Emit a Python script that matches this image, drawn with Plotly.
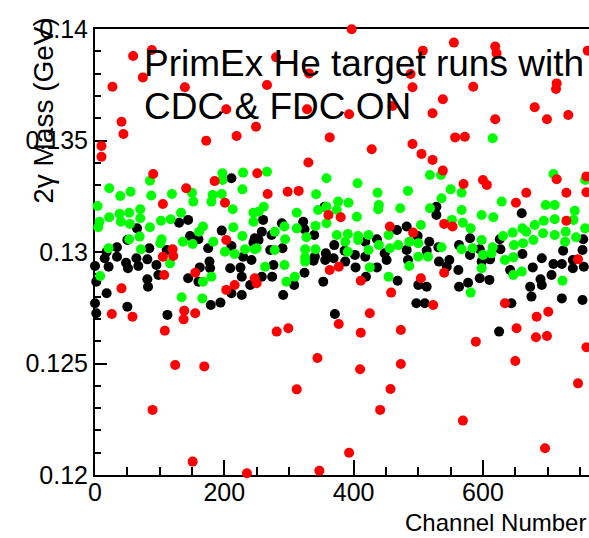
import plotly.graph_objects as go

# ---- data: pi0 (2-gamma) mass per calorimeter channel ----
black_x = [211, 144, 130, 65, 196, 147, 160, 50, 245, 34, 84, 175, 211, 18, 34, 111, 0, 15, 64, 81,
           48, 67, 95, 51, 21, 177, 178, 162, 209, 225, 242, 229, 98, 81, 82, 144, 227, 2, 160, 240,
           18, 211, 227, 0, 2, 50, 179, 194, 112, 247, 355, 260, 322, 289, 258, 273, 324, 339, 253, 370,
           418, 436, 467, 482, 499, 271, 290, 386, 402, 340, 357, 369, 418, 448, 451, 482, 484, 276, 338, 356,
           387, 403, 436, 258, 274, 324, 353, 419, 308, 468, 500, 291, 497, 371, 528, 528, 660, 580, 517, 626,
           755, 531, 563, 595, 627, 661, 724, 754, 513, 548, 532, 598, 611, 580, 691, 739, 756, 562, 544, 642,
           677, 709, 722, 739, 595, 577, 563, 610, 706, 689, 691, 673, 513, 675, 722, 754, 510, 644, 625]
black_y = [0.13331, 0.13144, 0.13131, 0.13106, 0.13096, 0.13072, 0.13057, 0.13054, 0.13042, 0.13021,
           0.13017, 0.13017, 0.13027, 0.13001, 0.12979, 0.13009, 0.12937, 0.12972, 0.12972, 0.12967,
           0.12952, 0.12937, 0.12942, 0.12927, 0.12934, 0.12957, 0.12927, 0.12931, 0.12927, 0.12930,
           0.12964, 0.12979, 0.12897, 0.12878, 0.12844, 0.12882, 0.12889, 0.12867, 0.12867, 0.12852,
           0.12815, 0.12815, 0.12807, 0.12770, 0.12725, 0.12755, 0.12762, 0.12773, 0.12718, 0.13062,
           0.13203, 0.13144, 0.13136, 0.13129, 0.13091, 0.13076, 0.13102, 0.13076, 0.13054, 0.13031,
           0.13046, 0.13057, 0.13099, 0.13114, 0.13072, 0.13009, 0.13017, 0.13006, 0.12987, 0.12979,
           0.12994, 0.12972, 0.12979, 0.12994, 0.12964, 0.13009, 0.12964, 0.12942, 0.12961, 0.12964,
           0.12957, 0.12931, 0.12931, 0.12889, 0.12889, 0.12907, 0.12867, 0.12889, 0.12852, 0.12871,
           0.12852, 0.12807, 0.12770, 0.12722, 0.13203, 0.13166, 0.13174, 0.13062, 0.13046, 0.13057,
           0.13057, 0.13021, 0.13031, 0.13012, 0.13012, 0.12991, 0.13006, 0.13009, 0.13006, 0.12964,
           0.12957, 0.12957, 0.12967, 0.12987, 0.12972, 0.12964, 0.12934, 0.12919, 0.12934, 0.12919,
           0.12931, 0.12946, 0.12946, 0.12927, 0.12882, 0.12862, 0.12844, 0.12875, 0.12897, 0.12878,
           0.12852, 0.12844, 0.12844, 0.12800, 0.12792, 0.12785, 0.12770, 0.12770, 0.12643]

green_x = [197, 229, 197, 85, 22, 39, 55, 87, 119, 150, 152, 182, 196, 180, 228, 4, 213, 70, 53, 38,
           133, 245, 22, 7, 40, 70, 102, 117, 5, 54, 85, 167, 214, 245, 161, 69, 53, 103, 136, 151,
           183, 228, 101, 21, 71, 201, 216, 232, 247, 116, 8, 167, 180, 134, 166,
           266, 358, 406, 484, 437, 342, 376, 392, 439, 261, 438, 472, 345, 358, 374, 253, 312, 405, 358, 293,
           341, 312, 504, 278, 374, 391, 407, 423, 454, 294, 327, 387, 407, 439, 469, 486, 500, 250, 278, 325,
           341, 391, 423, 456, 325, 500, 263, 293, 325, 425, 486, 309, 296, 454,
           518, 535, 709, 758, 550, 567, 536, 629, 697, 711, 518, 567, 742, 598, 616, 552, 569, 680, 694, 711,
           740, 581, 661, 758, 631, 646, 667, 693, 711, 728, 744, 598, 678, 727, 648, 662, 536, 567, 584, 615,
           600, 613, 515, 647, 634, 598, 660, 647, 723, 581, 615]
green_y = [0.13353, 0.13356, 0.13323, 0.13320, 0.13286, 0.13251, 0.13270, 0.13253, 0.13260, 0.13266,
           0.13226, 0.13256, 0.13260, 0.13226, 0.13281, 0.13206, 0.13192, 0.13192, 0.13176, 0.13171,
           0.13176, 0.13176, 0.13156, 0.13136, 0.13136, 0.13151, 0.13140, 0.13147, 0.13111, 0.13126,
           0.13111, 0.13114, 0.13111, 0.13136, 0.13091, 0.13069, 0.13057, 0.13057, 0.13046, 0.13036,
           0.13046, 0.13072, 0.13039, 0.13017, 0.13012, 0.13001, 0.12991, 0.13012, 0.13012, 0.12949,
           0.12892, 0.12867, 0.12889, 0.12797, 0.12792,
           0.13360, 0.13331, 0.13308, 0.13274, 0.13266, 0.13259, 0.13226, 0.13221, 0.13211, 0.13203,
           0.13192, 0.13196, 0.13188, 0.13203, 0.13188, 0.13181, 0.13176, 0.13158, 0.13129, 0.13114,
           0.13117, 0.13106, 0.13121, 0.13091, 0.13076, 0.13081, 0.13072, 0.13076, 0.13076, 0.13057,
           0.13066, 0.13046, 0.13054, 0.13031, 0.13031, 0.13046, 0.13039, 0.13017, 0.13009, 0.13012,
           0.13012, 0.13001, 0.13009, 0.13017, 0.12976, 0.12979, 0.12934, 0.12942, 0.12957, 0.12931,
           0.12937, 0.12889, 0.12867, 0.12889,
           0.13345, 0.13345, 0.13350, 0.13323, 0.13281, 0.13266, 0.13241, 0.13226, 0.13211, 0.13211,
           0.13196, 0.13188, 0.13185, 0.13166, 0.13156, 0.13144, 0.13131, 0.13121, 0.13140, 0.13147,
           0.13144, 0.13106, 0.13106, 0.13106, 0.13072, 0.13087, 0.13091, 0.13084, 0.13076, 0.13091,
           0.13066, 0.13054, 0.13054, 0.13046, 0.13031, 0.13039, 0.13021, 0.13012, 0.13017, 0.13021,
           0.12987, 0.12994, 0.12979, 0.12976, 0.12964, 0.12927, 0.12912, 0.12897, 0.12871, 0.12818,
           0.13510]

red_x = [88, 59, 74, 27, 139, 41, 44, 10, 10, 90,
         397, 280, 331, 266, 203, 328, 393, 460, 249, 219, 172, 363, 428, 330, 251, 185,
         555, 619, 621, 762, 507, 488, 491, 585, 714, 713, 538, 522, 680, 699, 732, 619, 557, 572, 491,
         505, 522, 538, 760,
         141, 105, 201, 203, 105, 120, 121, 107, 155, 247, 250, 216, 203, 41, 26, 58, 138, 137, 155, 108,
         267, 298, 315, 361, 380, 456, 492, 377, 363, 411, 504, 458, 425, 377, 281, 299, 411, 473,
         600, 606, 570, 714, 667, 729, 760, 651, 729, 540, 553, 747, 540, 523, 634, 683, 701, 652, 682, 699,
         589, 760,
         124, 89, 151, 169, 344, 312, 410, 457, 441, 393, 235, 347, 473, 650, 747, 569, 696]
red_y = [0.13906, 0.13879, 0.13783, 0.13741, 0.13739, 0.13584, 0.13529, 0.13475, 0.13427, 0.13350,
         0.13999, 0.13873, 0.13801, 0.13749, 0.13640, 0.13640, 0.13618, 0.13655, 0.13562, 0.13520,
         0.13499, 0.13514, 0.13461, 0.13401, 0.13353, 0.13318,
         0.13939, 0.13921, 0.13891, 0.13903, 0.13903, 0.13798, 0.13739, 0.13741, 0.13756, 0.13731,
         0.13685, 0.13622, 0.13649, 0.13595, 0.13614, 0.13595, 0.13514, 0.13517, 0.13484, 0.13440,
         0.13413, 0.13365, 0.13339,
         0.13286, 0.13215, 0.13221, 0.13054, 0.12979, 0.13012, 0.12982, 0.12897, 0.12907, 0.12882,
         0.12860, 0.12852, 0.12830, 0.12837, 0.12722, 0.12710, 0.12737, 0.12698, 0.12725, 0.12647,
         0.13260, 0.13270, 0.13274, 0.13166, 0.13156, 0.13114, 0.13087, 0.12934, 0.12919, 0.12871,
         0.12882, 0.12818, 0.12725, 0.12677, 0.12643, 0.12658, 0.12638, 0.12650,
         0.13323, 0.13301, 0.13305, 0.13326, 0.13266, 0.13266, 0.13268, 0.13221, 0.13140, 0.13126,
         0.13114, 0.12967, 0.12907, 0.12762, 0.12770, 0.12710, 0.12732, 0.12658, 0.12618, 0.12623,
         0.12598, 0.12573,
         0.12493, 0.12292, 0.12060, 0.12487, 0.12525, 0.12384, 0.12474, 0.12386, 0.12292, 0.12100,
         0.12008, 0.12019, 0.12498, 0.12511, 0.12411, 0.12244, 0.12120]

x_tick_vals = [0, 200, 400, 600]
x_tick_labels = ["0", "200", "400", "600"]
y_tick_vals = [0.12, 0.125, 0.13, 0.135, 0.14]
y_tick_labels = ["0.12", "0.125", "0.13", "0.135", "0.14"]

x_title = "Channel Number"
y_title = "2γ Mass (GeV)"
label_lines = ["PrimEx He target runs with", "CDC & FDC ON"]

FONT = "Liberation Sans, Arial, Helvetica, sans-serif"

fig = go.Figure()
for xs, ys, col in [(black_x, black_y, "#000000"),
                    (green_x, green_y, "#00ff00"),
                    (red_x, red_y, "#ff0000")]:
    fig.add_trace(go.Scatter(
        x=xs, y=ys, mode="markers", cliponaxis=False, showlegend=False,
        marker=dict(color=col, size=10, line=dict(width=0)),
    ))

fig.update_layout(
    width=589, height=538,
    margin=dict(l=95, r=0, t=29, b=63, autoexpand=False),
    paper_bgcolor="white", plot_bgcolor="white",
    font=dict(family=FONT, color="black"),
    showlegend=False,
)

fig.update_xaxes(
    range=[0, 764], showgrid=False, zeroline=False,
    showline=True, linecolor="black", linewidth=2, mirror=True,
    tickmode="array", tickvals=x_tick_vals, ticktext=x_tick_labels,
    ticks="inside", ticklen=15, tickwidth=2, tickcolor="black",
    minor=dict(tickmode="linear", tick0=0, dtick=50, ticks="inside",
               ticklen=8, tickwidth=2, tickcolor="black"),
    tickfont=dict(size=25, family=FONT, color="black"),
    ticklabelstandoff=-6,
    layer="below traces", automargin=False,
)
fig.update_yaxes(
    range=[0.12, 0.14], showgrid=False, zeroline=False,
    showline=True, linecolor="black", linewidth=2, mirror=False,
    tickmode="array", tickvals=y_tick_vals, ticktext=y_tick_labels,
    ticks="inside", ticklen=12, tickwidth=2, tickcolor="black",
    minor=dict(tickmode="linear", tick0=0.12, dtick=0.001, ticks="inside",
               ticklen=6, tickwidth=2, tickcolor="black"),
    tickfont=dict(size=25, family=FONT, color="black"),
    layer="below traces", automargin=False,
)

# axis titles (right/top aligned) and the run description
fig.add_annotation(text=x_title, xref="paper", yref="paper",
                   x=0.998, y=-0.1413, xanchor="right", yanchor="bottom",
                   showarrow=False, font=dict(size=24, family=FONT, color="black"))
fig.add_annotation(text=y_title, xref="paper", yref="paper", textangle=-90,
                   x=-0.1047, y=0.603, xanchor="center", yanchor="bottom",
                   showarrow=False, font=dict(size=28, family=FONT, color="black"))
for line, ypos in zip(label_lines, [0.9742, 0.8756]):
    fig.add_annotation(text=line, xref="paper", yref="paper",
                       x=0.0951, y=ypos, xanchor="left", yanchor="top",
                       showarrow=False, font=dict(size=37, family=FONT, color="black"))

fig.write_html("out.html")
